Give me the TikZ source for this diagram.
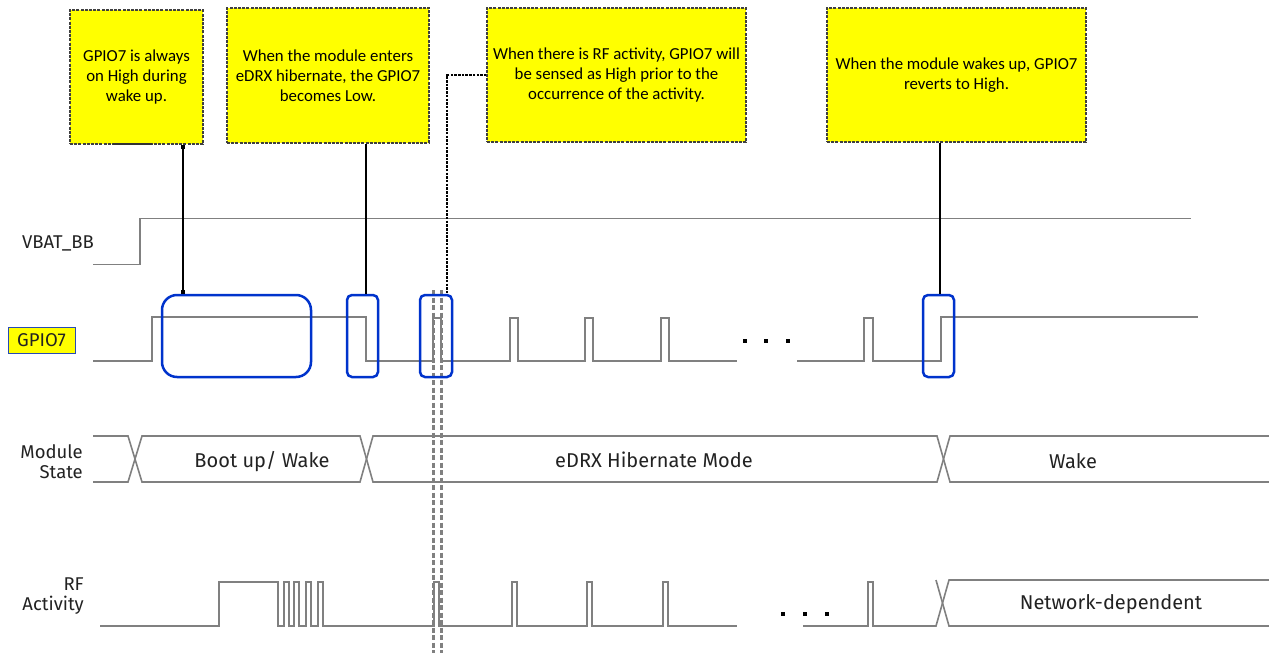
\documentclass[tikz,border=0pt]{standalone}
\usepackage{fontspec}
\setmainfont{Fira Sans}
\newfontfamily\notefont{Carlito}
\usetikzlibrary{arrows.meta}
\definecolor{wave}{HTML}{808080}
\definecolor{hlblue}{HTML}{0033CC}
\definecolor{noteyel}{HTML}{FFFF00}
\definecolor{txt}{HTML}{222222}
\tikzset{
  note/.style={draw=black!75, dash pattern=on 3pt off 1.2pt, line width=1.2pt, fill=noteyel,
    align=center, inner sep=0pt, font=\notefont\fontsize{16.8}{20}\selectfont, text=black},
  hl/.style={draw=hlblue, line width=2.5pt, fill=none},
  sig/.style={draw=wave, line width=1.6pt},
  conn/.style={draw=black, line width=2pt},
  dconn/.style={draw=black, line width=1.3pt, dash pattern=on 2.5pt off 1.2pt},
  gdash/.style={draw=wave, line width=3pt, dash pattern=on 5pt off 2.5pt},
  lbl/.style={font=\fontsize{18.5}{20}\selectfont, text=txt, inner sep=0pt},
  state/.style={font=\fontsize{20}{22}\selectfont, text=txt, inner sep=0pt},
  dotmark/.style={fill=black, inner sep=0pt, minimum size=3.5pt}
}
\begin{document}
\begin{tikzpicture}[x=1pt,y=-1pt]
\useasboundingbox (0,0) rectangle (1269,653);

% notes
\node[note, minimum width=133pt, minimum height=134pt] (n1) at (136.5,77) {GPIO7 is always\\on High during\\wake up.};
\node[note, minimum width=202pt, minimum height=135pt] (n2) at (328,75.5) {When the module enters\\eDRX hibernate, the GPIO7\\becomes Low.};
\node[note, minimum width=259pt, minimum height=134pt] (n3) at (616.5,75) {When there is RF activity, GPIO7 will\\be sensed as High prior to the\\occurrence of the activity.};
\node[note, minimum width=259pt, minimum height=134pt] (n4) at (956.5,75) {When the module wakes up, GPIO7\\reverts to High.};
\draw[black!80, line width=2pt] (113,143.5) -- (152,143.5);

% labels
\node[lbl] (lv) at (58,243) {VBAT\_BB};
\node[lbl, draw=hlblue!70!gray, fill=noteyel, line width=1pt, minimum width=67pt, minimum height=26pt] (lg) at (41.5,340) {GPIO7};
\node[lbl, align=right, anchor=east] (lm) at (83,462) {Module\\State};
\node[lbl, align=right, anchor=east] (lr) at (84,596) {RF\\Activity};

% VBAT_BB
\draw[sig] (93,264.5) -- (140,264.5) -- (140,218.5) -- (1191,218.5);

% GPIO7
\draw[sig] (93,361) -- (152,361) -- (152,317) -- (366,317) -- (366,361)
  -- (433,361) -- (433,318) -- (441,318) -- (441,361)
  -- (510,361) -- (510,318) -- (518,318) -- (518,361)
  -- (585,361) -- (585,318) -- (593,318) -- (593,361)
  -- (661,361) -- (661,318) -- (669,318) -- (669,361) -- (737,361);
\draw[sig] (797,361) -- (864,361) -- (864,318) -- (873,318) -- (873,361)
  -- (941,361) -- (941,317) -- (1198,317);
\node[dotmark] (g1) at (745,341) {};
\node[dotmark] (g2) at (766,341) {};
\node[dotmark] (g3) at (788,341) {};

% Module state bus
\draw[sig] (93,436) -- (128,436) -- (142,482) -- (360,482) -- (373,436) -- (937,436) -- (950,482) -- (1269,482);
\draw[sig] (93,482) -- (128,482) -- (142,436) -- (360,436) -- (373,482) -- (937,482) -- (950,436) -- (1269,436);
\node[state] (s1) at (262,462) {Boot up/ Wake};
\node[state] (s2) at (654,460) {eDRX Hibernate Mode};
\node[state] (s3) at (1073,461) {Wake};

% RF activity
\draw[sig] (100,626) -- (219,626) -- (219,582) -- (278,582) -- (278,626)
  -- (284,626) -- (284,582) -- (289,582) -- (289,626)
  -- (294,626) -- (294,582) -- (299,582) -- (299,626)
  -- (306,626) -- (306,582) -- (311,582) -- (311,626)
  -- (318,626) -- (318,582) -- (323,582) -- (323,626)
  -- (434,626) -- (434,582) -- (439,582) -- (439,626)
  -- (512,626) -- (512,582) -- (517,582) -- (517,626)
  -- (587,626) -- (587,582) -- (592,582) -- (592,626)
  -- (663,626) -- (663,582) -- (668,582) -- (668,626) -- (737,626);
\draw[sig] (803,626) -- (868,626) -- (868,582) -- (873,582) -- (873,626)
  -- (936,626) -- (949,580) -- (1269,580);
\draw[sig] (936,580) -- (949,626) -- (1269,626);
\node[dotmark] (r1) at (783,614) {};
\node[dotmark] (r2) at (805,614) {};
\node[dotmark] (r3) at (827,614) {};
\node[state] (s4) at (1111,604) {Network-dependent};

% gray dashed markers
\coordinate (ga) at (433.5,290);
\coordinate (gb) at (441.5,290);
\draw[gdash] (ga) -- (433.5,653);
\draw[gdash] (gb) -- (441.5,653);

% highlight boxes
\node[hl, rounded corners=15pt, minimum width=149pt, minimum height=82pt] (h1) at (236.5,336) {};
\node[hl, rounded corners=5pt, minimum width=31pt, minimum height=82pt] (h2) at (362.5,336) {};
\node[hl, rounded corners=5pt, minimum width=32pt, minimum height=82pt] (h3) at (436,336) {};
\node[hl, rounded corners=5pt, minimum width=31pt, minimum height=82pt] (h4) at (938.5,336) {};

% connectors
\coordinate (c1) at (183,0);
\coordinate (c2) at (366,0);
\coordinate (c3) at (447,0);
\coordinate (c4) at (940,0);
\draw[conn, {Square[length=4pt,width=4pt]}-{Square[length=4pt,width=4pt]}] (n1.south -| c1) -- (h1.north -| c1);
\draw[conn] (n2.south -| c2) -- (h2.north -| c2);
\draw[dconn] (n3.west) -- (n3.west -| c3) -- (h3.north -| c3);
\draw[conn] (n4.south -| c4) -- (h4.north -| c4);
\end{tikzpicture}
\end{document}
